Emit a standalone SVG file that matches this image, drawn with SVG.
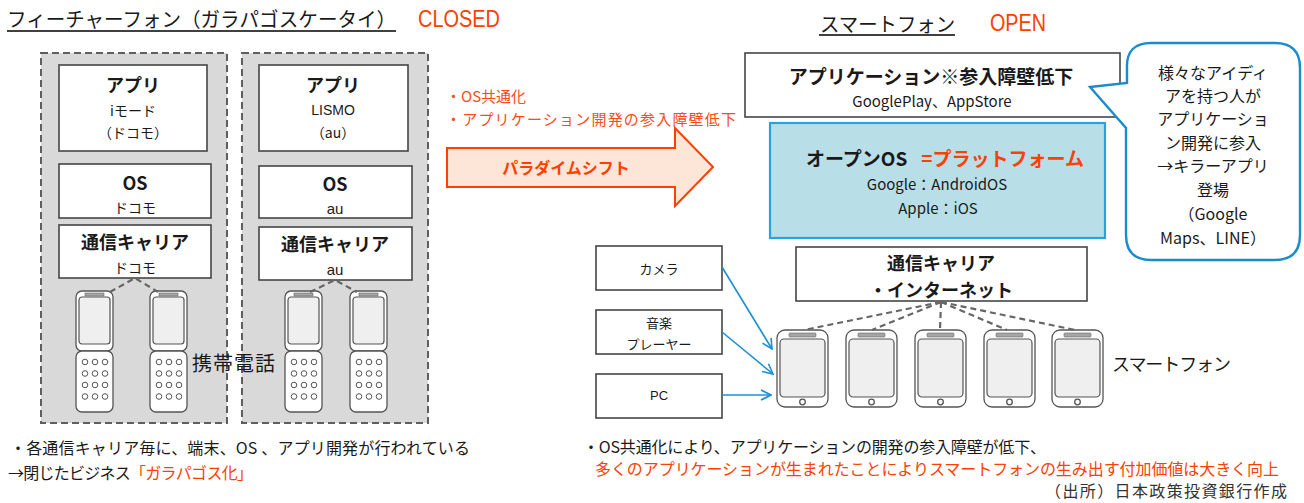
<svg xmlns="http://www.w3.org/2000/svg" xmlns:xlink="http://www.w3.org/1999/xlink" width="1304" height="503" viewBox="0 0 1304 503">
  <style>
    text { font-family: "Noto Sans CJK JP", "Noto Sans", sans-serif; fill: #1a1a1a; dominant-baseline: central; }
    .latin { font-family: "Liberation Sans", "Noto Sans CJK JP", sans-serif; }
    .c { text-anchor: middle; }
    .b { font-weight: bold; }
    .red { fill: #FF4000; }
    .t13 { font-size: 13px; }
    .t14 { font-size: 14px; }
    .t15 { font-size: 15px; }
    .t16 { font-size: 16px; }
    .t18 { font-size: 18px; }
    .t19 { font-size: 19px; }
    .t20 { font-size: 20px; }
    .panel { fill: #D9D9D9; stroke: #5f5f5f; stroke-width: 2; stroke-dasharray: 7 4; }
    .box { fill: #ffffff; stroke: #454545; stroke-width: 1.6; }
    .dash { fill: none; stroke: #666666; stroke-width: 2.2; stroke-dasharray: 6 4; }
    .blue { fill: none; stroke: #1E8FD0; stroke-width: 1.6; marker-end: url(#vhead); }
    .ph { fill: #ffffff; stroke: #555555; stroke-width: 1.3; }
    .scr { fill: #efefef; stroke: #555555; stroke-width: 1.2; }
    .spk { fill: #a6a6a6; stroke: #666666; stroke-width: 0.6; }
    .key { fill: #ffffff; stroke: #555555; stroke-width: 1; }
  </style>
  <defs>
    <marker id="vhead" viewBox="0 0 12 12" refX="11" refY="6" markerWidth="12" markerHeight="12" markerUnits="userSpaceOnUse" orient="auto">
      <path d="M1,1 L11,6 L1,11" fill="none" stroke="#1E8FD0" stroke-width="1.6"/>
    </marker>
    <!-- flip phone, origin at its top-left corner -->
    <g id="flip">
      <rect class="ph" x="0" y="0" width="37" height="60" rx="6"/>
      <rect class="scr" x="3" y="6" width="31" height="47" rx="3"/>
      <rect class="spk" x="9" y="2" width="19" height="3"/>
      <rect class="ph" x="0" y="60" width="37" height="61" rx="6"/>
      <g class="key">
        <circle cx="9" cy="71" r="2.8"/><circle cx="19" cy="71" r="2.8"/><circle cx="29" cy="71" r="2.8"/>
        <circle cx="9" cy="82.5" r="2.8"/><circle cx="19" cy="82.5" r="2.8"/><circle cx="29" cy="82.5" r="2.8"/>
        <circle cx="9" cy="94" r="2.8"/><circle cx="19" cy="94" r="2.8"/><circle cx="29" cy="94" r="2.8"/>
        <circle cx="9" cy="105.5" r="2.8"/><circle cx="19" cy="105.5" r="2.8"/><circle cx="29" cy="105.5" r="2.8"/>
      </g>
    </g>
    <!-- smartphone, origin at its top-left corner -->
    <g id="smart">
      <rect class="ph" x="0" y="0" width="51" height="77" rx="8"/>
      <rect class="scr" x="3" y="9" width="45" height="58" rx="4"/>
      <rect class="spk" x="12" y="3" width="27" height="4" rx="1"/>
      <circle class="ph" cx="25.5" cy="72" r="2.8"/>
    </g>
  </defs>

  <rect width="1304" height="503" fill="#ffffff"/>

  <!-- headings -->
  <g id="title-left">
    <text class="t20" x="7" y="18" textLength="389" lengthAdjust="spacingAndGlyphs">フィーチャーフォン（ガラパゴスケータイ）</text>
    <line x1="7" y1="31" x2="396" y2="31" stroke="#000" stroke-width="1.6"/>
    <text class="latin red" x="418" y="19" font-size="23" textLength="82" lengthAdjust="spacingAndGlyphs">CLOSED</text>
  </g>
  <g id="title-right">
    <text class="t20" x="820" y="23" textLength="135" lengthAdjust="spacingAndGlyphs">スマートフォン</text>
    <line x1="819" y1="35" x2="955" y2="35" stroke="#000" stroke-width="1.6"/>
    <text class="latin red" x="990" y="23" font-size="23" textLength="56" lengthAdjust="spacingAndGlyphs">OPEN</text>
  </g>

  <!-- feature phone stacks -->
  <g id="docomo-stack">
    <rect class="panel" x="41" y="53" width="186" height="370"/>
    <rect class="box" x="59" y="65" width="148" height="86"/>
    <text class="c b t18" x="133" y="84">アプリ</text>
    <text class="c t14" x="133" y="110">iモード</text>
    <text class="c t14" x="133" y="132">（ドコモ）</text>
    <rect class="box" x="59" y="164" width="152" height="54"/>
    <text class="c b t18" x="135" y="182">OS</text>
    <text class="c t14" x="135" y="207">ドコモ</text>
    <rect class="box" x="59" y="225" width="152" height="53"/>
    <text class="c b t18" x="135" y="241">通信キャリア</text>
    <text class="c t14" x="135" y="267">ドコモ</text>
  </g>
  <g id="au-stack">
    <rect class="panel" x="242" y="53" width="186" height="370"/>
    <rect class="box" x="259" y="65" width="149" height="86"/>
    <text class="c b t18" x="333" y="84">アプリ</text>
    <text class="c latin t14" x="333" y="110">LISMO</text>
    <text class="c t14" x="333" y="132">（au）</text>
    <rect class="box" x="259" y="166" width="153" height="52"/>
    <text class="c b t18" x="335" y="183">OS</text>
    <text class="c latin t15" x="335" y="208">au</text>
    <rect class="box" x="259" y="227" width="153" height="53"/>
    <text class="c b t18" x="335" y="243">通信キャリア</text>
    <text class="c latin t15" x="335" y="269">au</text>
  </g>

  <g id="feature-phones">
    <use xlink:href="#flip" x="76" y="291"/>
    <use xlink:href="#flip" x="150" y="291"/>
    <use xlink:href="#flip" x="285" y="291"/>
    <use xlink:href="#flip" x="350" y="291"/>
    <text class="t20" x="192" y="362" textLength="83">携帯電話</text>
  </g>

  <!-- paradigm shift -->
  <g id="shift">
    <text class="t15" x="446" y="95" style="fill:#FF4A1A">・OS共通化</text>
    <text class="t15" x="446" y="118" style="fill:#FF4A1A" textLength="290">・アプリケーション開発の参入障壁低下</text>
    <path d="M447,148 H675 V128 L713,167 L675,206 V187 H447 Z" fill="#FDE6D8" stroke="#FF4000" stroke-width="2"/>
    <text class="c b t16 red" x="566" y="167">パラダイムシフト</text>
  </g>

  <!-- smartphone stack -->
  <g id="app-layer">
    <rect class="box" x="745" y="53" width="375" height="64"/>
    <text class="c b t19" x="931" y="75">アプリケーション※参入障壁低下</text>
    <text class="c t15" x="932" y="100">GooglePlay、AppStore</text>
  </g>
  <g id="os-layer">
    <rect x="770" y="123" width="335" height="115" fill="#B8DEE8" stroke="#29A3DF" stroke-width="2.2"/>
    <text class="b t19" x="806" y="157">オープンOS<tspan class="red" dx="14">=プラットフォーム</tspan></text>
    <text class="c t15" x="937" y="183">Google：AndroidOS</text>
    <text class="c t15" x="938" y="207">Apple：iOS</text>
  </g>
  <g id="carrier-layer">
    <rect class="box" x="796" y="247" width="291" height="54"/>
    <text class="c b t18" x="941" y="262">通信キャリア</text>
    <text class="c b t18" x="941" y="289">・インターネット</text>
  </g>

  <g id="callout">
    <path d="M1151,43 H1275 Q1300,43 1300,68 V235 Q1300,260 1275,260 H1151 Q1126,260 1126,235 V128 L1090,87 L1127,83 V68 Q1126,43 1151,43 Z" fill="#ffffff" stroke="#1B8CCB" stroke-width="2.4"/>
    <g class="c t16">
      <text x="1213" y="72">様々なアイディ</text>
      <text x="1213" y="95">アを持つ人が</text>
      <text x="1213" y="118">アプリケーショ</text>
      <text x="1213" y="142">ン開発に参入</text>
      <text x="1213" y="165">→キラーアプリ</text>
      <text x="1213" y="189">登場</text>
      <text x="1213" y="213">（Google</text>
      <text x="1213" y="237">Maps、LINE）</text>
    </g>
  </g>

  <g id="devices">
    <rect class="box" x="596" y="246" width="126" height="44"/>
    <text class="c t13" x="659" y="268">カメラ</text>
    <rect class="box" x="596" y="310" width="126" height="44"/>
    <text class="c t13" x="659" y="322">音楽</text>
    <text class="c t13" x="659" y="343">プレーヤー</text>
    <rect class="box" x="596" y="374" width="126" height="44"/>
    <text class="c latin t13" x="659" y="395">PC</text>
  </g>

  <g id="smartphones">
    <use xlink:href="#smart" x="777" y="330"/>
    <use xlink:href="#smart" x="846" y="330"/>
    <use xlink:href="#smart" x="915" y="330"/>
    <use xlink:href="#smart" x="984" y="330"/>
    <use xlink:href="#smart" x="1052" y="330"/>
    <text class="t18" x="1112" y="363" textLength="119">スマートフォン</text>
  </g>

  <!-- connectors -->
  <g id="connectors">
    <path class="dash" d="M110,292 L135,278 L158,292"/>
    <path class="dash" d="M310,292 L335,280 L357,292"/>
    <path class="dash" d="M941,302 L804,330"/>
    <path class="dash" d="M941,302 L872,330"/>
    <path class="dash" d="M941,302 L940,330"/>
    <path class="dash" d="M941,302 L1007,330"/>
    <path class="dash" d="M941,302 L1075,330"/>
    <line class="blue" x1="722" y1="267" x2="772" y2="349"/>
    <line class="blue" x1="722" y1="332" x2="773" y2="374"/>
    <line class="blue" x1="722" y1="395" x2="771" y2="395"/>
  </g>

  <!-- notes -->
  <g id="notes">
    <text class="t16" x="10" y="447" textLength="460">・各通信キャリア毎に、端末、OS 、アプリ開発が行われている</text>
    <text class="t16" x="8" y="472" textLength="245">→閉じたビジネス<tspan class="red">「ガラパゴス化」</tspan></text>
    <text class="t16" x="583" y="446" textLength="463">・OS共通化により、アプリケーションの開発の参入障壁が低下、</text>
    <text class="t16 red" x="595" y="468" textLength="684">多くのアプリケーションが生まれたことによりスマートフォンの生み出す付加価値は大きく向上</text>
    <text class="t16" x="1045" y="490" textLength="242" style="fill:#333">（出所）日本政策投資銀行作成</text>
  </g>
</svg>
